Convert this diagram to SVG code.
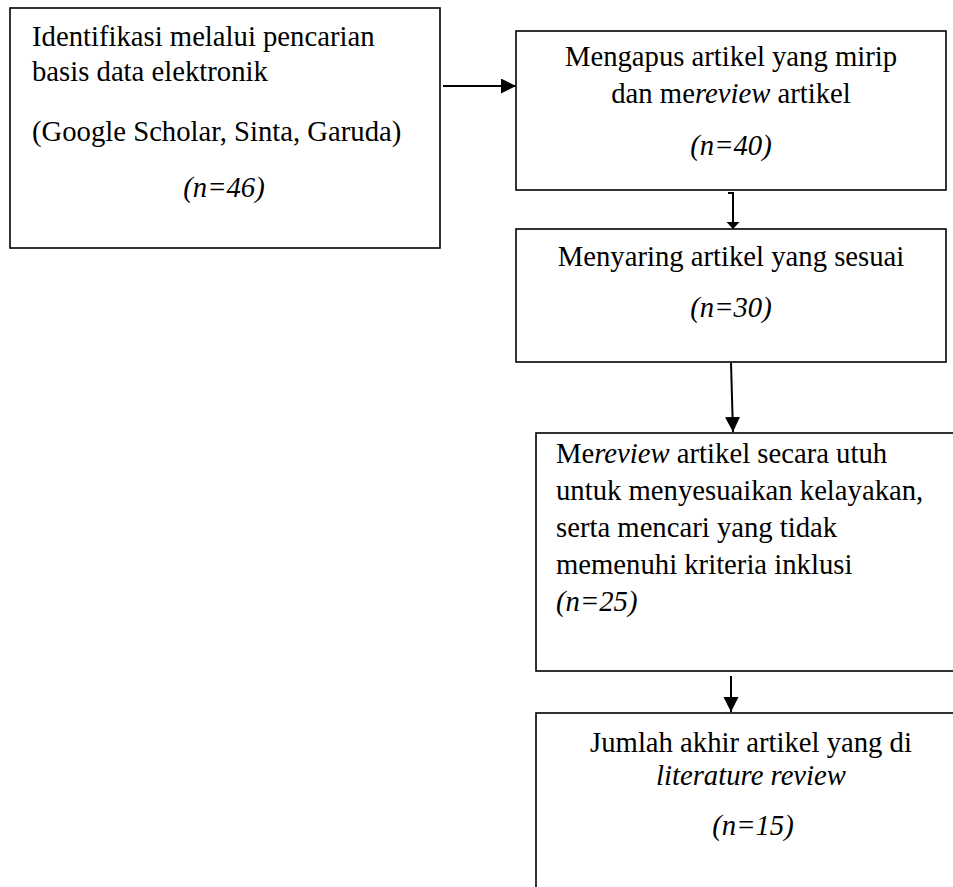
<svg xmlns="http://www.w3.org/2000/svg" width="953" height="887" viewBox="0 0 953 887">
<style>
.box{fill:#fff;stroke:#000;stroke-width:1.6}
.t{font-family:"Liberation Serif","Times New Roman",serif;font-size:28.7px;fill:#000}
.c{text-anchor:middle}
.i{font-style:italic}
.ln{fill:none;stroke:#000;stroke-width:2}
</style>
<defs>
<marker id="ah" markerUnits="userSpaceOnUse" markerWidth="16" markerHeight="16" refX="15" refY="7.5" orient="auto"><path d="M0,0 L15,7.5 L0,15 z" fill="#000"/></marker>
<marker id="ahs" markerUnits="userSpaceOnUse" markerWidth="14" markerHeight="14" refX="7" refY="6.5" orient="auto"><path d="M0,0 L7,6.5 L0,13 z" fill="#000"/></marker>
</defs>
<rect width="953" height="887" fill="#fff"/>
<g id="connectors">
<line class="ln" x1="443" y1="86" x2="516" y2="86" marker-end="url(#ah)"/>
<path class="ln" d="M728,193 L733,193 L733,229" marker-end="url(#ahs)"/>
<line class="ln" x1="731" y1="363" x2="733" y2="432" marker-end="url(#ah)"/>
<line class="ln" x1="731" y1="676" x2="731" y2="712" marker-end="url(#ah)"/>
</g>
<g id="n1">
<rect class="box" x="10" y="8" width="430" height="240"/>
<text class="t" x="32" y="46">Identifikasi melalui pencarian</text>
<text class="t" x="32" y="81">basis data elektronik</text>
<text class="t" x="32" y="141">(Google Scholar, Sinta, Garuda)</text>
<text class="t c i" x="224" y="197">(n=46)</text>
</g>
<g id="n2">
<rect class="box" x="516" y="31" width="430" height="159"/>
<text class="t c" x="731" y="66">Mengapus artikel yang mirip</text>
<text class="t c" x="731" y="103">dan me<tspan class="i">review</tspan> artikel</text>
<text class="t c i" x="731" y="155">(n=40)</text>
</g>
<g id="n3">
<rect class="box" x="516" y="229" width="430" height="133"/>
<text class="t c" x="731" y="266">Menyaring artikel yang sesuai</text>
<text class="t c i" x="731" y="317">(n=30)</text>
</g>
<g id="n4">
<rect class="box" x="536" y="433" width="440" height="238"/>
<text class="t" x="556" y="463">Me<tspan class="i">review</tspan> artikel secara utuh</text>
<text class="t" x="556" y="500">untuk menyesuaikan kelayakan,</text>
<text class="t" x="556" y="537">serta mencari yang tidak</text>
<text class="t" x="556" y="574">memenuhi kriteria inklusi</text>
<text class="t i" x="556" y="611">(n=25)</text>
</g>
<g id="n5">
<rect class="box" x="536" y="713" width="440" height="200"/>
<text class="t c" x="751" y="752">Jumlah akhir artikel yang di</text>
<text class="t c i" x="751" y="785">literature review</text>
<text class="t c i" x="753" y="835">(n=15)</text>
</g>
</svg>
